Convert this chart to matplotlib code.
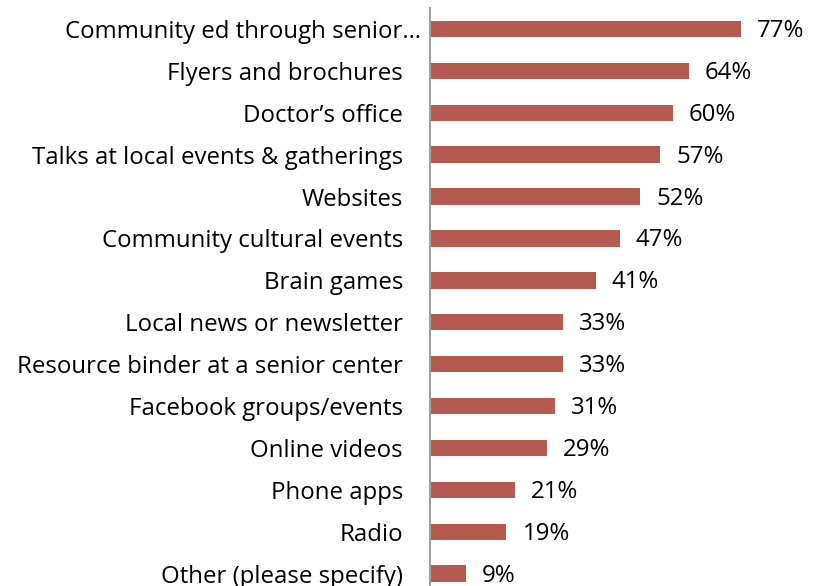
import matplotlib
matplotlib.use("Agg")
import matplotlib.pyplot as plt

categories = [
    "Community ed through senior…",
    "Flyers and brochures",
    "Doctor’s office",
    "Talks at local events & gatherings",
    "Websites",
    "Community cultural events",
    "Brain games",
    "Local news or newsletter",
    "Resource binder at a senior center",
    "Facebook groups/events",
    "Online videos",
    "Phone apps",
    "Radio",
    "Other (please specify)",
]
values = [77, 64, 60, 57, 52, 47, 41, 33, 33, 31, 29, 21, 19, 9]

W, H = 817, 586
fig = plt.figure(figsize=(W / 100, H / 100), dpi=100)
plt.rcParams['font.family'] = ['Open Sans', 'DejaVu Sans']

x0 = 429.5
px_per = 4.05
top_px = 8.0
step = 41.9
n = len(categories)
bottom_px = top_px + step * n
ax = fig.add_axes([x0 / W, 1 - bottom_px / H, (W - x0) / W, (bottom_px - top_px) / H])
ax.set_xlim(0, (W - x0) / px_per)
ax.set_ylim(n - 0.5, -0.5)

fs = 17.3
color = '#B45A51'
ypos = list(range(n))
ax.barh(ypos, values, height=0.39, color=color, edgecolor='none')
for y, v in zip(ypos, values):
    ax.annotate(f"{v}%", xy=(v, y), xytext=(16, -2), textcoords='offset pixels',
                ha='left', va='center', fontsize=fs, color='#000000')

ax.set_yticks(ypos)
ax.set_yticklabels(categories, fontsize=fs)
ax.tick_params(axis='y', length=0, pad=19)
# the truncated first label sits closer to the axis in the reference
first = ax.get_yticklabels()[0]
first.set_visible(False)
ax.annotate(categories[0], xy=(0, ypos[0]), xytext=(-9, 0), textcoords='offset pixels',
            ha='right', va='center_baseline', fontsize=fs, color='#000000',
            annotation_clip=False)
ax.set_xticks([])
for s in ['top', 'right', 'bottom']:
    ax.spines[s].set_visible(False)
ax.spines['left'].set_color('#A0A0A0')
ax.spines['left'].set_linewidth(1.5)

fig.savefig('out.png', dpi=100)
